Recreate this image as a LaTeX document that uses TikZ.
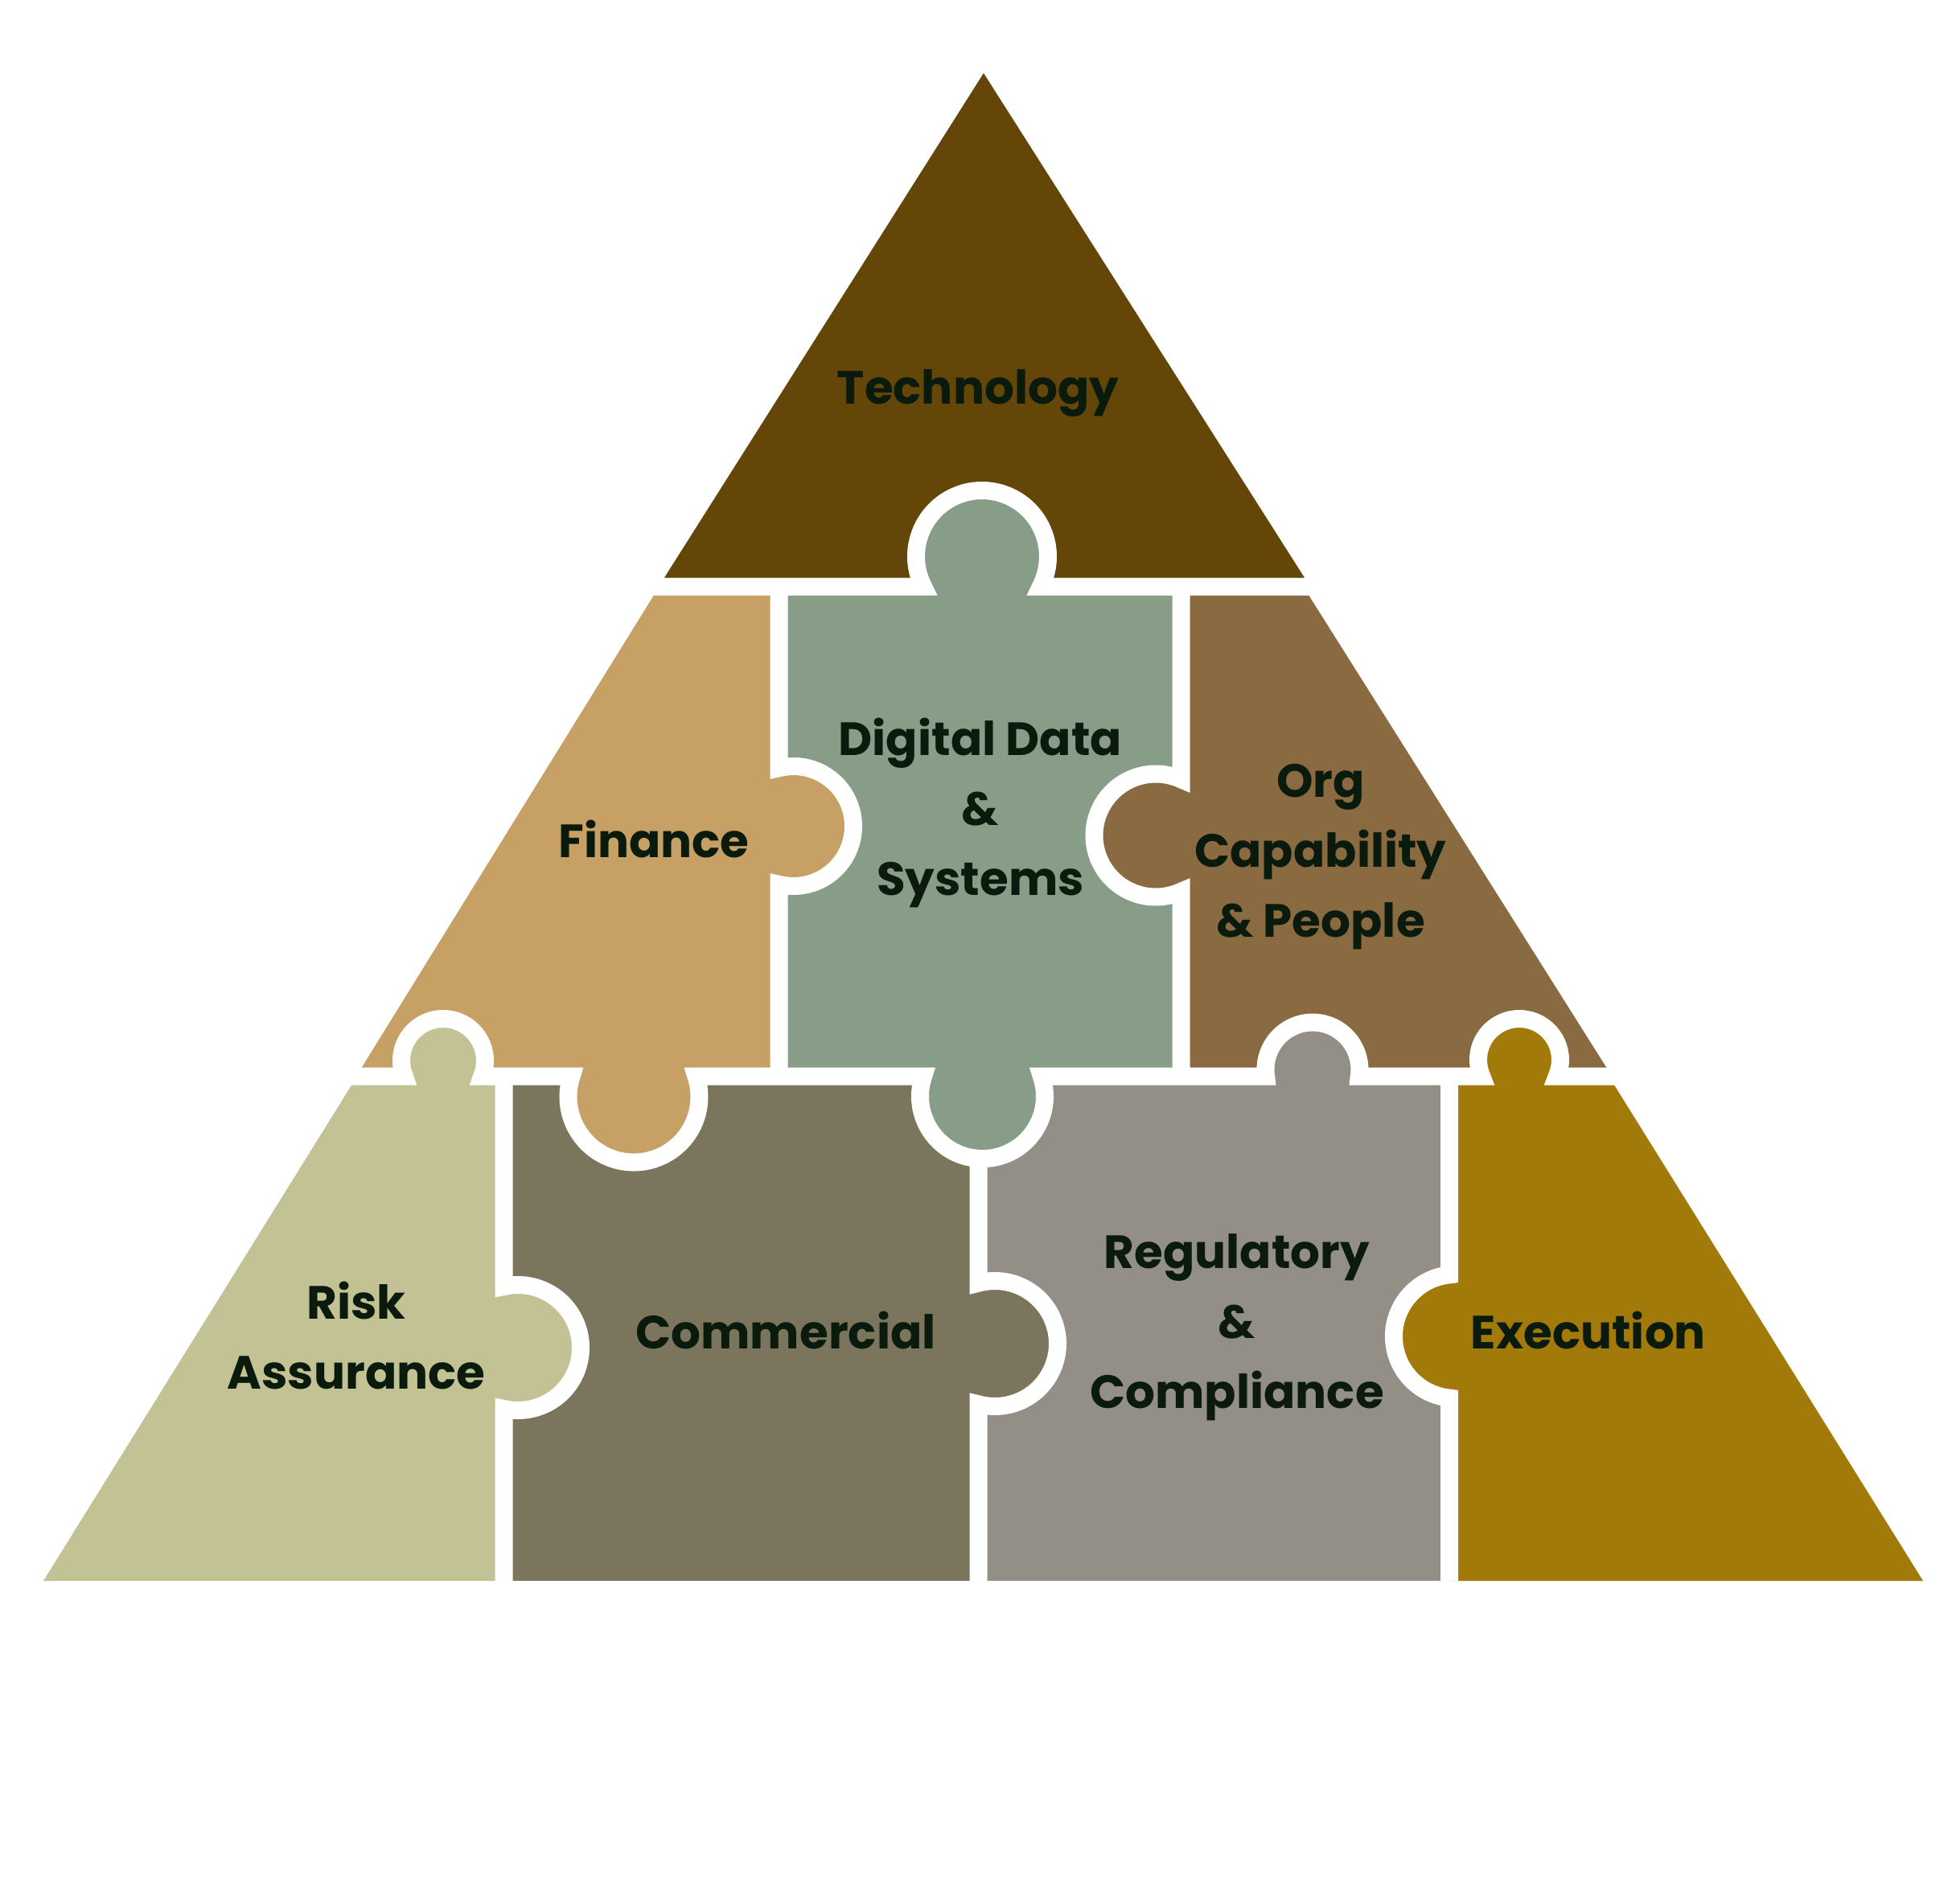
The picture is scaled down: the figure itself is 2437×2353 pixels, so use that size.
\documentclass[tikz,border=0pt]{standalone}
\usepackage{fontspec}
\setmainfont{Poppins}
\definecolor{ctech}{HTML}{634608}
\definecolor{cfin}{HTML}{C6A064}
\definecolor{cdig}{HTML}{889D88}
\definecolor{corg}{HTML}{8A6A40}
\definecolor{crisk}{HTML}{C2C295}
\definecolor{ccom}{HTML}{7B755D}
\definecolor{creg}{HTML}{938E86}
\definecolor{cexe}{HTML}{A27A0A}
\definecolor{ctext}{HTML}{0A1A0C}
% knob fragments: horizontal edge traversed left to right
% #1 centre x, #2 edge y (image), #3 centre y (image), #4 radius
\newcommand\kup[4]{-- ({#1-sqrt((#4)*(#4)-(#2-#3)*(#2-#3))},-#2) arc[start angle={180+asin((#2-#3)/(#4))}, end angle={-asin((#2-#3)/(#4))}, radius=#4pt]}
\newcommand\kdown[4]{-- ({#1-sqrt((#4)*(#4)-(#2-#3)*(#2-#3))},-#2) arc[start angle={180+asin((#2-#3)/(#4))}, end angle={360-asin((#2-#3)/(#4))}, radius=#4pt]}
% vertical edge traversed top to bottom
% #1 centre y (image), #2 edge x, #3 centre x, #4 radius
\newcommand\kright[4]{-- (#2,{-#1+sqrt((#4)*(#4)-(#3-#2)*(#3-#2))}) arc[start angle={90+asin((#3-#2)/(#4))}, end angle={-90-asin((#3-#2)/(#4))}, radius=#4pt]}
\newcommand\kleft[4]{-- (#2,{-#1+sqrt((#4)*(#4)-(#3-#2)*(#3-#2))}) arc[start angle={90+asin((#3-#2)/(#4))}, end angle={270-asin((#3-#2)/(#4))}, radius=#4pt]}
\begin{document}
\begin{tikzpicture}[x=1pt,y=1pt,
  gap/.style={draw=white,line width=22pt},
  lbl/.style={text=ctext,font=\fontsize{58}{87}\selectfont\bfseries,align=center,inner sep=0pt}]
\fill[white] (0,0) rectangle (2437,-2353);
\useasboundingbox (0,0) rectangle (2437,-2353);
% piece bodies
\fill[ctech] (819,-729.5) -- (1223,-91) -- (1629,-729.5) -- cycle;
\fill[cfin] (819.6,-729.5) -- (968.5,-729.5) -- (968.5,-1338.5) -- (443,-1338.5) -- cycle;
\fill[cdig] (968.5,-729.5) rectangle (1468.5,-1338.5);
\fill[corg] (1468.5,-729.5) -- (1620.4,-729.5) -- (2004.2,-1338.5) -- (1468.5,-1338.5) -- cycle;
\fill[crisk] (444,-1338.5) -- (626.5,-1338.5) -- (626.5,-1966) -- (54,-1966) -- cycle;
\fill[ccom] (626.5,-1338.5) rectangle (1216.5,-1966);
\fill[creg] (1216.5,-1338.5) rectangle (1802,-1966);
\fill[cexe] (1802,-1338.5) -- (2000.3,-1338.5) -- (2391,-1966) -- (1802,-1966) -- cycle;
% knobs
\fill[cdig] (1221,-692) circle[radius=82pt];
\fill[cfin] (986.5,-1027.5) circle[radius=74.5pt];
\fill[corg] (1437,-1039) circle[radius=76.5pt];
\fill[crisk] (551,-1319) circle[radius=52pt];
\fill[cfin] (788,-1364) circle[radius=81.5pt];
\fill[cdig] (1221.5,-1363.5) circle[radius=77.5pt];
\fill[creg] (1632,-1330) circle[radius=58.5pt];
\fill[cexe] (1889,-1318) circle[radius=51pt];
\fill[crisk] (644,-1676) circle[radius=78pt];
\fill[ccom] (1237,-1671) circle[radius=78pt];
\fill[cexe] (1810,-1662) circle[radius=77pt];
% white gaps between pieces
\draw[gap] (760,-729.5) \kup{1221}{729.5}{692}{82} -- (1690,-729.5);
\draw[gap] (380,-1338.5) \kup{551}{1338.5}{1319}{52} \kdown{788}{1338.5}{1364}{81.5} \kdown{1221.5}{1338.5}{1363.5}{77.5} \kup{1632}{1338.5}{1330}{58.5} \kup{1889}{1338.5}{1318}{51} -- (2070,-1338.5);
\draw[gap] (968.5,-729.5) \kright{1027.5}{968.5}{986.5}{74.5} -- (968.5,-1338.5);
\draw[gap] (1468.5,-729.5) \kleft{1039}{1468.5}{1437}{76.5} -- (1468.5,-1338.5);
\draw[gap] (626.5,-1338.5) \kright{1676}{626.5}{644}{78} -- (626.5,-1966);
\draw[gap] (1216.5,-1441) \kright{1671}{1216.5}{1237}{78} -- (1216.5,-1966);
\draw[gap] (1802,-1338.5) \kleft{1662}{1802}{1810}{77} -- (1802,-1966);
% labels
\node[lbl,anchor=base] (tech) at (1216,-502) {Technology};
\node[lbl,anchor=base] (fin) at (813,-1066) {Finance};
\node[lbl] (dig) at (1219,-1011) {Digital Data\\\&\\Systems};
\node[lbl] (org) at (1642,-1066) {Org\\Capability\\\& People};
\node[lbl] (risk) at (443,-1661) {Risk\\Assurance};
\node[lbl,anchor=base] (com) at (977,-1677) {Commercial};
\node[lbl] (reg) at (1538,-1651) {Regulatory\\\&\\Compliance};
\node[lbl,anchor=base] (exe) at (1975,-1677) {Execution};
\end{tikzpicture}
\end{document}
